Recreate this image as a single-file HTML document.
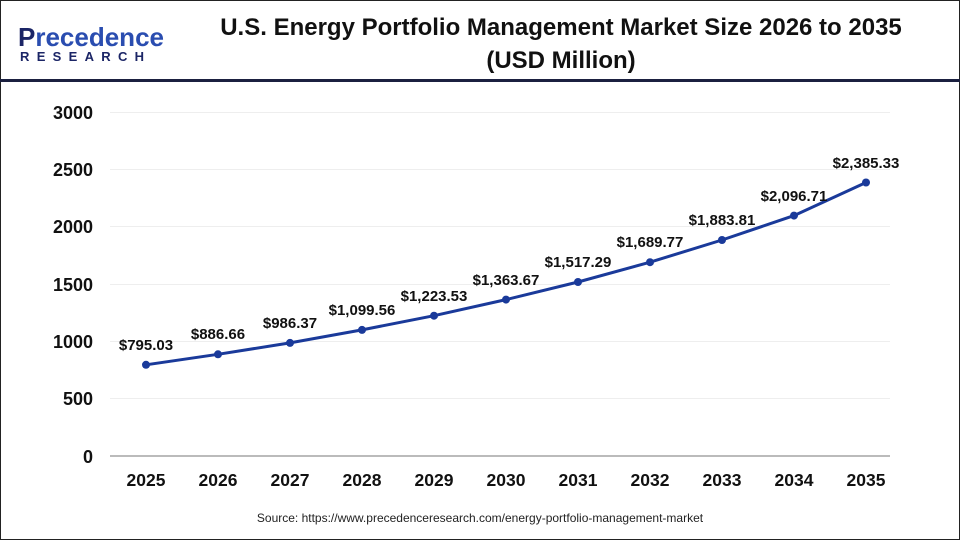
<!DOCTYPE html><html><head><style>
body{margin:0;width:960px;height:540px;background:#fff;overflow:hidden;font-family:"Liberation Sans",Arial,sans-serif}
</style></head><body>
<svg width="960" height="540" xmlns="http://www.w3.org/2000/svg" font-family="Liberation Sans, Arial, sans-serif">
<rect x="0.5" y="0.5" width="959" height="539" fill="#fff" stroke="#222" stroke-width="1"/>
<text x="18" y="46" font-size="26" fill="#1b2566" font-weight="bold">P<tspan fill="#2a4db0">recedence</tspan></text>
<text x="20" y="61" font-size="13" font-weight="bold" fill="#1b2566" letter-spacing="7.3">RESEARCH</text>
<text x="561" y="35" font-size="24" font-weight="bold" text-anchor="middle" fill="#111">U.S. Energy Portfolio Management Market Size 2026 to 2035</text>
<text x="561" y="68" font-size="24" font-weight="bold" text-anchor="middle" fill="#111">(USD Million)</text>
<rect x="0" y="79" width="960" height="3" fill="#1b2040"/>
<g stroke="#eee" stroke-width="1">
<line x1="110" x2="890" y1="112.5" y2="112.5"/><line x1="110" x2="890" y1="169.5" y2="169.5"/><line x1="110" x2="890" y1="226.5" y2="226.5"/><line x1="110" x2="890" y1="284.5" y2="284.5"/><line x1="110" x2="890" y1="341.5" y2="341.5"/><line x1="110" x2="890" y1="398.5" y2="398.5"/>
</g>
<line x1="110" x2="890" y1="456" y2="456" stroke="#bbb" stroke-width="2"/>
<g font-size="18" font-weight="bold" fill="#111" text-anchor="end">
<text x="93" y="119">3000</text><text x="93" y="176">2500</text><text x="93" y="233">2000</text><text x="93" y="291">1500</text><text x="93" y="348">1000</text><text x="93" y="405">500</text><text x="93" y="463">0</text>
</g>
<g font-size="17.5" font-weight="bold" fill="#111" text-anchor="middle">
<text x="146" y="486">2025</text><text x="218" y="486">2026</text><text x="290" y="486">2027</text><text x="362" y="486">2028</text><text x="434" y="486">2029</text><text x="506" y="486">2030</text><text x="578" y="486">2031</text><text x="650" y="486">2032</text><text x="722" y="486">2033</text><text x="794" y="486">2034</text><text x="866" y="486">2035</text>
</g>
<polyline fill="none" stroke="#1a3a9a" stroke-width="3" points="146,364.8 218,354.3 290,342.9 362,329.9 434,315.7 506,299.6 578,282 650,262.2 722,240 794,215.6 866,182.5"/>
<g fill="#1a3a9a">
<circle cx="146" cy="364.8" r="4"/><circle cx="218" cy="354.3" r="4"/><circle cx="290" cy="342.9" r="4"/><circle cx="362" cy="329.9" r="4"/><circle cx="434" cy="315.7" r="4"/><circle cx="506" cy="299.6" r="4"/><circle cx="578" cy="282" r="4"/><circle cx="650" cy="262.2" r="4"/><circle cx="722" cy="240" r="4"/><circle cx="794" cy="215.6" r="4"/><circle cx="866" cy="182.5" r="4"/>
</g>
<g font-size="15" font-weight="bold" fill="#111" text-anchor="middle">
<text x="146" y="350">$795.03</text><text x="218" y="339">$886.66</text><text x="290" y="328">$986.37</text><text x="362" y="315">$1,099.56</text><text x="434" y="301">$1,223.53</text><text x="506" y="285">$1,363.67</text><text x="578" y="267">$1,517.29</text><text x="650" y="247">$1,689.77</text><text x="722" y="225">$1,883.81</text><text x="794" y="201">$2,096.71</text><text x="866" y="168">$2,385.33</text>
</g>
<text x="480" y="522" font-size="12" fill="#222" text-anchor="middle">Source: https://www.precedenceresearch.com/energy-portfolio-management-market</text>
</svg>
</body></html>
